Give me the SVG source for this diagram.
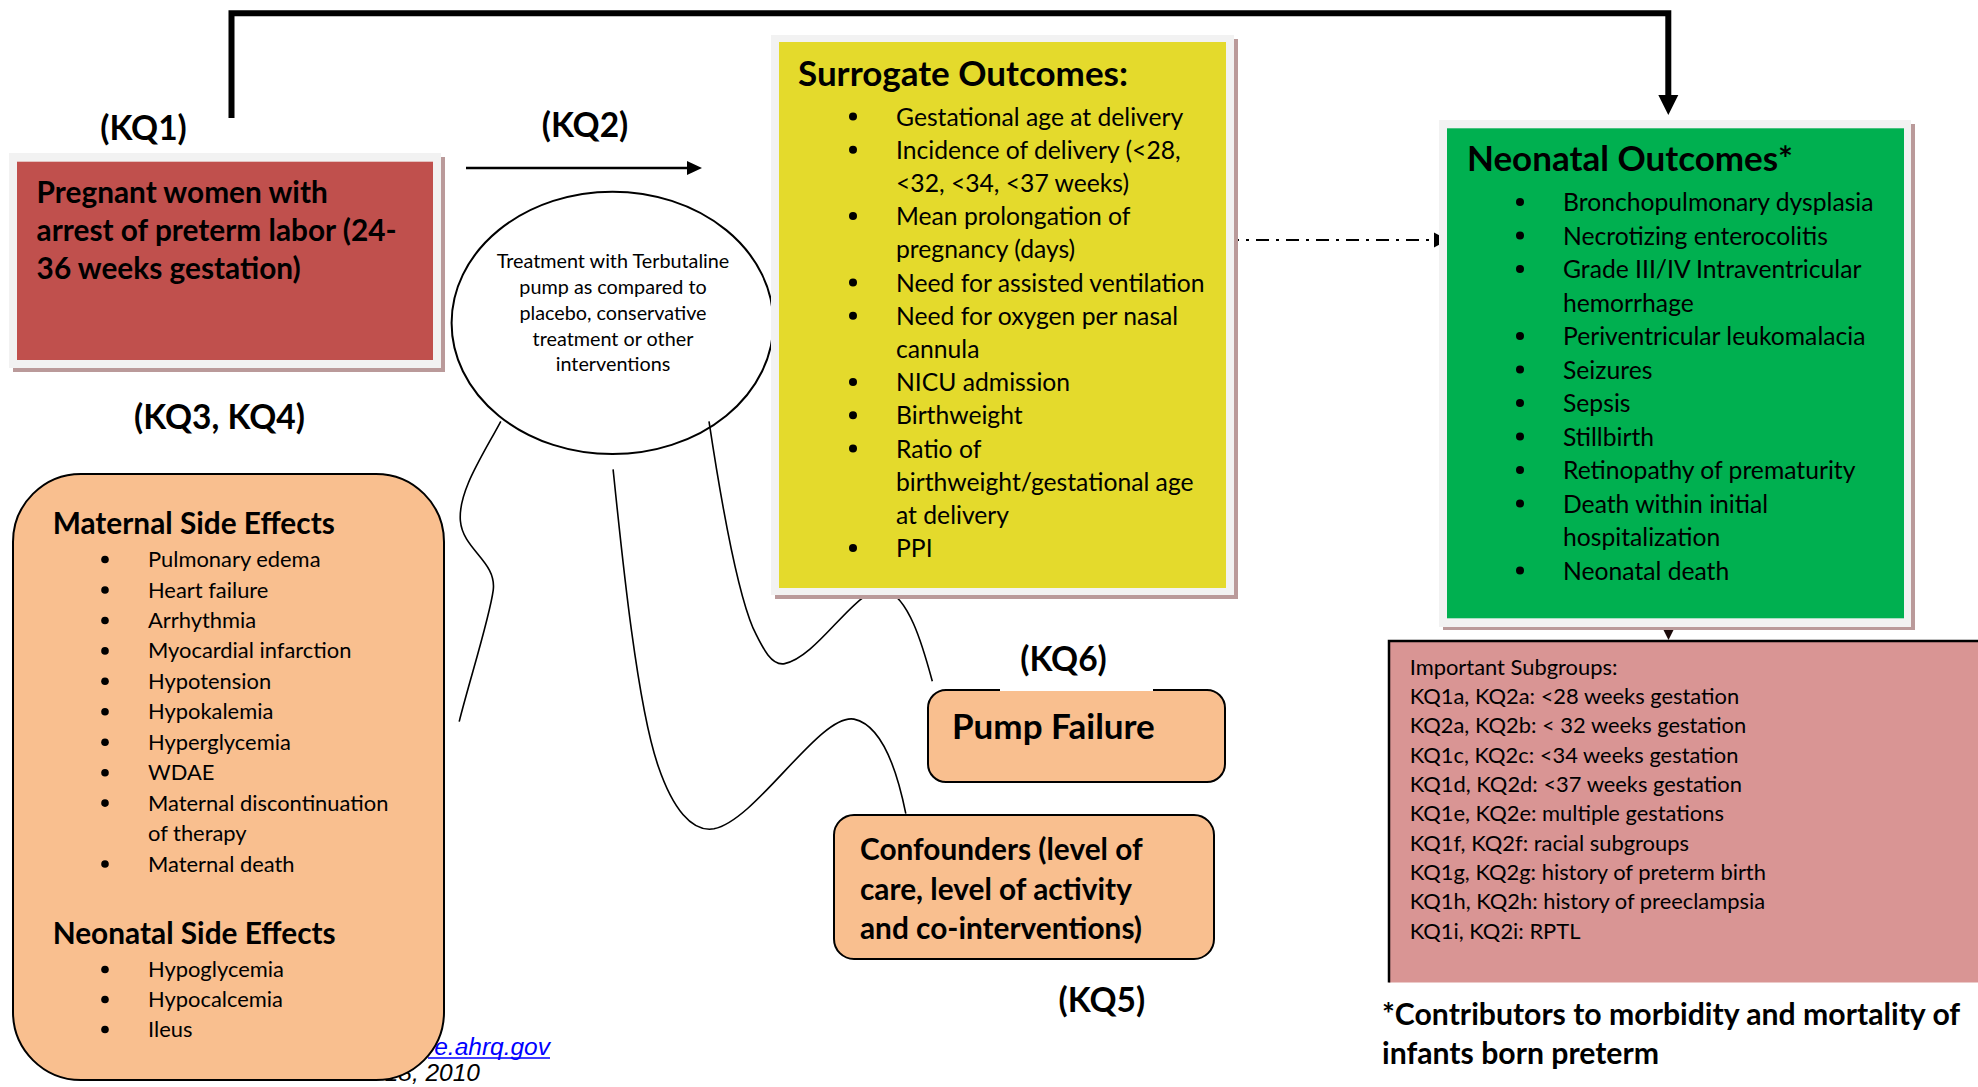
<svg xmlns="http://www.w3.org/2000/svg" width="1978" height="1087" viewBox="0 0 1978 1087">
<style>
text { font-family: Lato, "Liberation Sans", sans-serif; fill: #000; }
.kq { font-size: 33.5px; font-weight: 700; text-anchor: middle; }
.title { font-size: 35px; font-weight: 700; }
.item { font-size: 24.7px; }
.sm { font-size: 21.9px; }
.ell { font-size: 19.8px; text-anchor: middle; }
.box { font-size: 29.8px; font-weight: 700; }
.frame { fill: #F2F2F2; }
.shadow { fill: #BA9A9A; }
.conn { fill: none; stroke: #000; stroke-width: 1.6; }
.orange { fill: #F9BF8F; stroke: #000; stroke-width: 2; }
.foot { font-family: "Liberation Sans", Arial, sans-serif; font-style: italic; font-size: 24.5px; text-anchor: end; }
.bul { fill: #000; }
</style>
<rect x="0" y="0" width="1978" height="1087" fill="#FFFFFF"/>

<g id="footer">
  <text class="foot" x="550" y="1055" style="fill:#0000FF">www.effectivehealthcare.ahrq.gov</text>
  <line x1="428" y1="1058" x2="550" y2="1058" stroke="#0000FF" stroke-width="1.5"/>
  <text class="foot" x="480" y="1081">Published Online: October 18, 2010</text>
</g>

<g id="maternal-side-effects">
  <rect class="orange" x="13" y="474" width="431" height="606" rx="68" ry="68"/>
  <text class="box" x="52.7" y="534">Maternal Side Effects</text>
  <g class="sm">
    <text x="148" y="567">Pulmonary edema</text>
    <text x="148" y="597.5">Heart failure</text>
    <text x="148" y="628">Arrhythmia</text>
    <text x="148" y="658.4">Myocardial infarction</text>
    <text x="148" y="688.8">Hypotension</text>
    <text x="148" y="719.3">Hypokalemia</text>
    <text x="148" y="749.7">Hyperglycemia</text>
    <text x="148" y="780.2">WDAE</text>
    <text x="148" y="810.6">Maternal discontinuation</text>
    <text x="148" y="841">of therapy</text>
    <text x="148" y="871.5">Maternal death</text>
  </g>
  <g class="bul">
    <circle cx="105" cy="559.5" r="3.8"/>
    <circle cx="105" cy="590" r="3.8"/>
    <circle cx="105" cy="620.5" r="3.8"/>
    <circle cx="105" cy="650.9" r="3.8"/>
    <circle cx="105" cy="681.3" r="3.8"/>
    <circle cx="105" cy="711.8" r="3.8"/>
    <circle cx="105" cy="742.2" r="3.8"/>
    <circle cx="105" cy="772.7" r="3.8"/>
    <circle cx="105" cy="803.1" r="3.8"/>
    <circle cx="105" cy="864" r="3.8"/>
  </g>
  <text class="box" x="52.7" y="944">Neonatal Side Effects</text>
  <g class="sm">
    <text x="148" y="977">Hypoglycemia</text>
    <text x="148" y="1007">Hypocalcemia</text>
    <text x="148" y="1037">Ileus</text>
  </g>
  <g class="bul">
    <circle cx="105" cy="969.5" r="3.8"/>
    <circle cx="105" cy="999.5" r="3.8"/>
    <circle cx="105" cy="1029.5" r="3.8"/>
  </g>
</g>

<g id="population">
  <rect class="shadow" x="13" y="157" width="432" height="215"/>
  <rect class="frame" x="9" y="153" width="432" height="215"/>
  <rect x="17" y="161.7" width="416" height="198.3" fill="#C0504D"/>
  <text class="box" x="36.6" y="203">Pregnant women with</text>
  <text class="box" x="36.6" y="241">arrest of preterm labor (24-</text>
  <text class="box" x="36.6" y="279">36 weeks gestation)</text>
</g>

<g id="intervention">
  <ellipse cx="612.5" cy="322.9" rx="160.9" ry="131.2" fill="#FFFFFF" stroke="#000" stroke-width="2"/>
  <text class="ell" x="613" y="268">Treatment with Terbutaline</text>
  <text class="ell" x="613" y="294">pump as compared to</text>
  <text class="ell" x="613" y="320">placebo, conservative</text>
  <text class="ell" x="613" y="346">treatment or other</text>
  <text class="ell" x="613" y="371">interventions</text>
</g>

<g id="connectors">
  <path d="M231.5 118 V13.3 H1668.3 V97" fill="none" stroke="#000" stroke-width="6"/>
  <polygon points="1658.3,95 1678.3,95 1668.3,115" fill="#000"/>
  <path d="M466 168 H688" fill="none" stroke="#000" stroke-width="2.5"/>
  <polygon points="687,161 702,168 687,175" fill="#000"/>
  <path d="M1226 240 H1434" fill="none" stroke="#000" stroke-width="2" stroke-dasharray="13 7 3 7"/>
  <polygon points="1434,232.5 1448,240 1434,247.5" fill="#000"/>
  <polygon points="1662,627 1675,627 1668.5,640" fill="#1A0A0A"/>
  <path class="conn" d="M500.8 421.3 C481.9 456.7 457.9 492 460.4 521 C463 550 497 561.4 493.2 590.4 C489.5 618.1 469.3 681.2 459.2 721.6"/>
  <path class="conn" d="M613.1 469.3 C621.9 555.1 637.1 706.4 658.5 767 C672.4 807.4 691.3 832.6 714 828.8 C756.9 820 820 712.7 854 719.1 C883.1 725.4 898.2 775.8 905.8 813.7"/>
  <path class="conn" d="M709 421.3 C721.6 504.6 738 592.9 753.1 628.2 C763.2 649.7 772 666.1 784.7 663.6 C820 656 857.8 582.8 885.6 590.4 C908.3 596.7 922.1 643.4 932.3 681.2"/>
</g>

<g id="surrogate-outcomes">
  <rect class="shadow" x="775" y="39" width="463" height="560"/>
  <rect class="frame" x="771" y="35" width="463" height="560"/>
  <rect x="779" y="42" width="447" height="546" fill="#E4DA2C"/>
  <text class="title" x="798" y="86">Surrogate Outcomes:</text>
  <g class="item">
    <text x="896" y="125.5">Gestational age at delivery</text>
    <text x="896" y="158.7">Incidence of delivery (&lt;28,</text>
    <text x="896" y="191.9">&lt;32, &lt;34, &lt;37 weeks)</text>
    <text x="896" y="225.1">Mean prolongation of</text>
    <text x="896" y="258.3">pregnancy (days)</text>
    <text x="896" y="291.5">Need for assisted ventilation</text>
    <text x="896" y="324.7">Need for oxygen per nasal</text>
    <text x="896" y="357.9">cannula</text>
    <text x="896" y="391.1">NICU admission</text>
    <text x="896" y="424.3">Birthweight</text>
    <text x="896" y="457.5">Ratio of</text>
    <text x="896" y="490.7">birthweight/gestational age</text>
    <text x="896" y="523.9">at delivery</text>
    <text x="896" y="557.1">PPI</text>
  </g>
  <g class="bul">
    <circle cx="853" cy="116.5" r="4"/>
    <circle cx="853" cy="149.7" r="4"/>
    <circle cx="853" cy="216.1" r="4"/>
    <circle cx="853" cy="282.5" r="4"/>
    <circle cx="853" cy="315.7" r="4"/>
    <circle cx="853" cy="382.1" r="4"/>
    <circle cx="853" cy="415.3" r="4"/>
    <circle cx="853" cy="448.5" r="4"/>
    <circle cx="853" cy="548.1" r="4"/>
  </g>
</g>

<g id="neonatal-outcomes">
  <rect class="shadow" x="1443" y="124" width="472" height="506"/>
  <rect class="frame" x="1439" y="120" width="472" height="507"/>
  <rect x="1447" y="128.3" width="457" height="490" fill="#00B050"/>
  <text class="title" x="1467" y="171">Neonatal Outcomes*</text>
  <g class="item">
    <text x="1563" y="211">Bronchopulmonary dysplasia</text>
    <text x="1563" y="244.5">Necrotizing enterocolitis</text>
    <text x="1563" y="278">Grade III/IV Intraventricular</text>
    <text x="1563" y="311.5">hemorrhage</text>
    <text x="1563" y="345">Periventricular leukomalacia</text>
    <text x="1563" y="378.5">Seizures</text>
    <text x="1563" y="412">Sepsis</text>
    <text x="1563" y="445.5">Stillbirth</text>
    <text x="1563" y="479">Retinopathy of prematurity</text>
    <text x="1563" y="512.5">Death within initial</text>
    <text x="1563" y="546">hospitalization</text>
    <text x="1563" y="579.5">Neonatal death</text>
  </g>
  <g class="bul">
    <circle cx="1520" cy="202" r="4"/>
    <circle cx="1520" cy="235.5" r="4"/>
    <circle cx="1520" cy="269" r="4"/>
    <circle cx="1520" cy="336" r="4"/>
    <circle cx="1520" cy="369.5" r="4"/>
    <circle cx="1520" cy="403" r="4"/>
    <circle cx="1520" cy="436.5" r="4"/>
    <circle cx="1520" cy="470" r="4"/>
    <circle cx="1520" cy="503.5" r="4"/>
    <circle cx="1520" cy="570.5" r="4"/>
  </g>
</g>

<g id="subgroups">
  <rect x="1389" y="641" width="600" height="341.5" fill="#D99594"/>
  <path d="M1389 982.5 V641 H1978" fill="none" stroke="#000" stroke-width="2.5"/>
  <g class="sm">
    <text x="1409.7" y="674.5">Important Subgroups:</text>
    <text x="1409.7" y="703.8">KQ1a, KQ2a: &lt;28 weeks gestation</text>
    <text x="1409.7" y="733.2">KQ2a, KQ2b: &lt; 32 weeks gestation</text>
    <text x="1409.7" y="762.5">KQ1c, KQ2c: &lt;34 weeks gestation</text>
    <text x="1409.7" y="791.8">KQ1d, KQ2d: &lt;37 weeks gestation</text>
    <text x="1409.7" y="821.2">KQ1e, KQ2e: multiple gestations</text>
    <text x="1409.7" y="850.5">KQ1f, KQ2f: racial subgroups</text>
    <text x="1409.7" y="879.8">KQ1g, KQ2g: history of preterm birth</text>
    <text x="1409.7" y="909.1">KQ1h, KQ2h: history of preeclampsia</text>
    <text x="1409.7" y="938.5">KQ1i, KQ2i: RPTL</text>
  </g>
</g>

<g id="footnote">
  <text class="box" x="1382" y="1025" style="font-size:30.2px">*Contributors to morbidity and mortality of</text>
  <text class="box" x="1382" y="1064" style="font-size:30.2px">infants born preterm</text>
</g>

<g id="pump-failure">
  <rect class="orange" x="928" y="690" width="297" height="92" rx="18" ry="18"/>
  <text class="box" x="952" y="739" style="font-size:35px">Pump Failure</text>
</g>

<g id="confounders">
  <rect class="orange" x="834" y="815" width="380" height="144" rx="20" ry="20"/>
  <text class="box" x="860" y="860">Confounders (level of</text>
  <text class="box" x="860" y="899.5">care, level of activity</text>
  <text class="box" x="860" y="938.5">and co-interventions)</text>
</g>

<g id="labels">
  <text class="kq" x="143.5" y="140">(KQ1)</text>
  <text class="kq" x="585" y="137">(KQ2)</text>
  <text class="kq" x="219.5" y="429">(KQ3, KQ4)</text>
  <rect x="1000" y="683" width="153" height="8" fill="#FFFFFF"/>
  <text class="kq" x="1063.5" y="671">(KQ6)</text>
  <text class="kq" x="1101.8" y="1012">(KQ5)</text>
</g>
</svg>
